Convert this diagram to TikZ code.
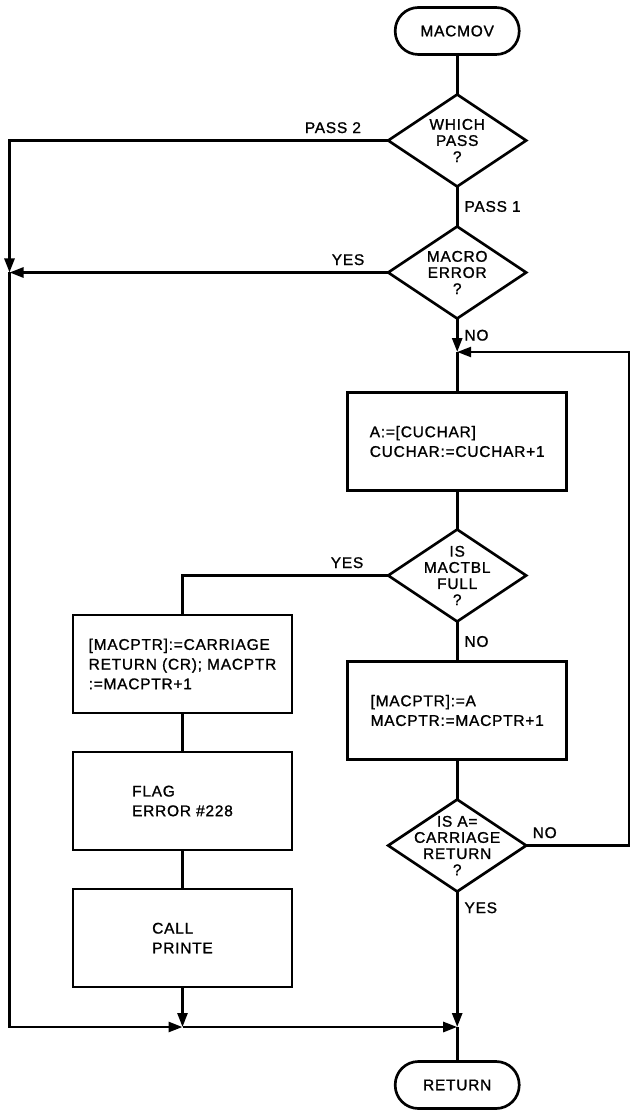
\documentclass[tikz,border=0pt]{standalone}
\usepackage{fontspec}
\setmainfont{Liberation Sans}[LetterSpace=5,FakeBold=1.2]
\usetikzlibrary{
    positioning,      % below=... of
    arrows.meta,      % Triangle
    shapes.geometric  % diamond
}

\begin{document}
\begin{tikzpicture}[
        node distance=1cm,
        font=\fontsize{11}{14}\selectfont,
        box/.style={
            rectangle,
            draw=black,
            line width=1.9pt,
            minimum width=5.475cm,
            minimum height=2.45cm,
            inner sep=0pt,
            outer sep=0pt,
            align=left
        },
        term/.style={
            rectangle,
            rounded corners=0.58cm,
            draw=black,
            line width=1.9pt,
            outer sep=0pt,
            minimum width=3.1cm,
            minimum height=1.175cm
        },
        decision/.style={
            diamond,
            draw=black,
            line width=1.9pt,
            aspect=1.5,
            minimum width=3.45cm,
            minimum height=2.3cm,
            inner sep=-0.35cm,
            outer sep=0pt,
            align=center,
            font=\fontsize{11}{11.5}\selectfont
        },
        lbl/.style={
            inner sep=0.15cm
        },
        line/.style={
            line width=1.9pt
        },
        arrow/.style={
            -{Triangle[length=0.35cm,width=0.25cm]},
            line width=1.9pt
        }
    ]
    \useasboundingbox (0,0) rectangle (15.775,-27.75);

    % 主流程
    \node[term] (start) at (11.43,-0.775) {MACMOV};
    \node[decision, below=of start] (pass) {WHICH\\PASS\\?};
    \node[decision, below=of pass] (merr) {MACRO\\ERROR\\?};
    \node[box, below=1.85cm of merr] (getc) {A:=[CUCHAR]\\CUCHAR:=CUCHAR+1};
    \node[decision, below=0.975cm of getc] (full) {IS\\MACTBL\\FULL\\?};
    \node[box, below=of full] (store) {[MACPTR]:=A\\MACPTR:=MACPTR+1};
    \node[decision, below=of store] (iscr) {IS A=\\CARRIAGE\\RETURN\\?};
    \node[term, below=4.25cm of iscr] (ret) {RETURN};

    % 表满分支
    \node[box] (crbox) at (4.5625,-16.6) {[MACPTR]:=CARRIAGE\\RETURN (CR); MACPTR\\:=MACPTR+1};
    \node[box, below=0.975cm of crbox] (flag) {FLAG\\ERROR \#228};
    \node[box, below=0.975cm of flag] (call) {CALL\\PRINTE};

    % 拐点
    \coordinate (j0) at (0.2375,0 |- pass);
    \coordinate (j1) at (0.2375,0 |- merr);
    \coordinate (j2) at (0.2375,-25.675);
    \coordinate (j3) at (call |- j2);
    \coordinate (j4) at (iscr |- j2);
    \coordinate (j5) at (crbox |- full);
    \coordinate (m1) at (merr |- 0,-8.8);
    \coordinate (r1) at (15.725,0 |- iscr);
    \coordinate (r2) at (15.725,-8.8);

    % 连线
    \draw[line] (start) -- (pass);
    \draw[line] (pass) -- node[lbl, right] {PASS 1} (merr);
    \draw[arrow] (pass) -- node[lbl, above, pos=0.146] {PASS 2} (j0) -- (j1);
    \draw[arrow] (merr) -- node[lbl, above, pos=0.106] {YES} (j1);
    \draw[arrow] (j1) -- (j2) -- (j3);
    \draw[arrow] (call) -- (j3);
    \draw[arrow] (j3) -- (j4);
    \draw[arrow] (iscr) -- node[lbl, right, pos=0.12] {YES} (j4);
    \draw[line] (j4) -- (ret);
    \draw[arrow] (merr) -- node[lbl, right] {NO} (m1);
    \draw[line] (m1) -- (getc);
    \draw[line] (getc) -- (full);
    \draw[line] (full) -- node[lbl, above, pos=0.2] {YES} (j5) -- (crbox);
    \draw[line] (crbox) -- (flag);
    \draw[line] (flag) -- (call);
    \draw[line] (full) -- node[lbl, right] {NO} (store);
    \draw[line] (store) -- (iscr);
    \draw[arrow] (iscr) -- node[lbl, above, pos=0.18] {NO} (r1) -- (r2) -- (m1);
\end{tikzpicture}
\end{document}
